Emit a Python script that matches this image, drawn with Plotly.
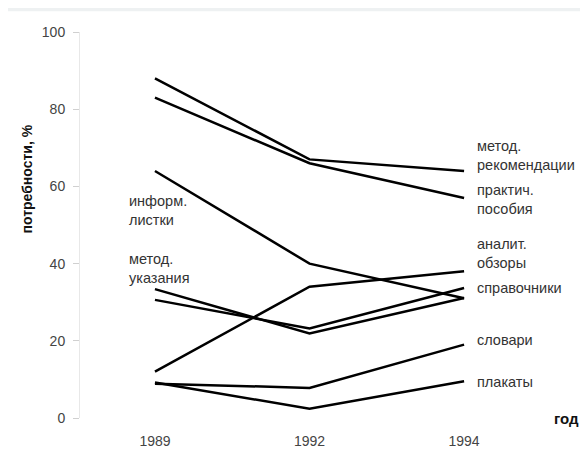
import plotly.graph_objects as go

years = ["1989", "1992", "1994"]

met_rek = [88, 67, 64]
prakt_pos = [83, 66, 57]
inform_list = [64, 40, 31]
analit_obz = [12, 34, 38]
spravochniki = [30.6, 23.2, 33.7]
metod_ukaz = [33.4, 21.9, 31.1]
slovari = [8.9, 7.8, 19]
plakaty = [9.2, 2.4, 9.5]

series = [met_rek, prakt_pos, inform_list, analit_obz,
          spravochniki, metod_ukaz, slovari, plakaty]

right_labels = ["метод.<br>рекомендации", "практич.<br>пособия", "аналит.<br>обзоры",
                "справочники", "словари", "плакаты"]
left_labels = ["информ.<br>листки", "метод.<br>указания"]

FONT = "Liberation Sans, Arial, sans-serif"

fig = go.Figure()
for s in series:
    fig.add_trace(go.Scatter(x=years, y=s, mode="lines",
                             line=dict(color="black", width=2.5),
                             showlegend=False, hoverinfo="skip"))

# label positions (layout)
right_y = [67.9, 56.5, 42.7, 33.6, 20.3, 9.2]
left_y = [53.7, 38.7]
annotations = []
for t, y in zip(right_labels, right_y):
    annotations.append(dict(x=2.071, y=y, xref="x", yref="y", text=t, showarrow=False,
                            xanchor="left", yanchor="middle", align="left",
                            font=dict(family=FONT, size=14.5, color="#333")))
for t, y in zip(left_labels, left_y):
    annotations.append(dict(x=-0.181, y=y, xref="x", yref="y", text=t, showarrow=False,
                            xanchor="left", yanchor="middle", align="left",
                            font=dict(family=FONT, size=14.5, color="#333")))
annotations.append(dict(x=0.972, y=0, xref="paper", yref="y", text="<b>год</b>",
                        showarrow=False, xanchor="center", yanchor="middle",
                        font=dict(family=FONT, size=15, color="#111")))
annotations.append(dict(x=-0.106, y=61.8, xref="paper", yref="y",
                        text="<b>потребности, %</b>", textangle=-90, showarrow=False,
                        xanchor="center", yanchor="middle",
                        font=dict(family=FONT, size=14, color="#111")))

fig.update_layout(
    width=572, height=441,
    margin=dict(l=72, r=0, t=24, b=27),
    paper_bgcolor="#eef1f2",
    plot_bgcolor="white",
    shapes=[dict(type="rect", xref="paper", yref="paper",
                 x0=-0.2, x1=1.05, y0=-0.15, y1=1.054,
                 fillcolor="white", line=dict(width=0), layer="below")],
    annotations=annotations,
    xaxis=dict(type="category", range=[-0.485, 2.75], showgrid=False, zeroline=False,
               showline=False, ticks="outside", ticklen=10, tickcolor="rgba(0,0,0,0)",
               tickfont=dict(family=FONT, size=14, color="#444")),
    yaxis=dict(range=[0, 100], tickvals=[0, 20, 40, 60, 80, 100], showgrid=False,
               zeroline=False, showline=True, linecolor="#e8e8e8", linewidth=1,
               ticks="outside", ticklen=6, tickcolor="#d0d0d0",
               ticklabelstandoff=5,
               tickfont=dict(family=FONT, size=14, color="#444")),
)

fig.write_html("out.html")
